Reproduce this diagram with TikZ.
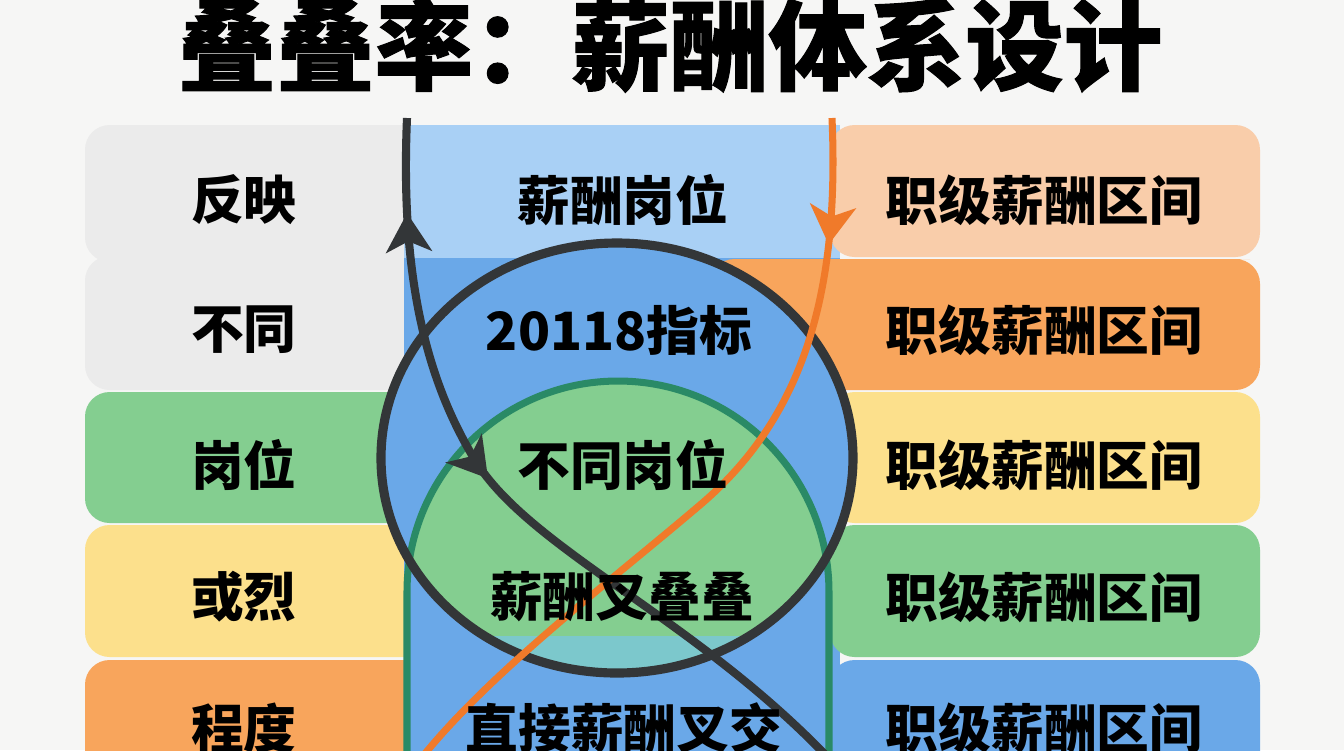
\documentclass[tikz,border=0pt]{standalone}
\usepackage{fontspec}
\setmainfont{Noto Sans CJK SC}
\newfontfamily\titlefont{Noto Sans CJK SC}[BoldFeatures={FakeBold=1}]
\usepackage{tikz}
\usetikzlibrary{arrows.meta,decorations.markings}
\definecolor{bgcol}{HTML}{F6F6F5}
\definecolor{boxgray}{HTML}{EBEBEB}
\definecolor{boxgreen}{HTML}{84CE90}
\definecolor{boxyellow}{HTML}{FCE08C}
\definecolor{boxorange}{HTML}{F8A55C}
\definecolor{boxpeach}{HTML}{F9CDAA}
\definecolor{boxblue}{HTML}{6AA8E8}
\definecolor{paleblue}{HTML}{A9D0F5}
\definecolor{lenscol}{HTML}{7CC8CC}
\definecolor{inkdark}{HTML}{333638}
\definecolor{inkorange}{HTML}{F07A2A}
\definecolor{inkgreen}{HTML}{2A8A66}
\newcommand\rowtxt{\bfseries\fontsize{15}{18}\selectfont}

\begin{document}
\begin{tikzpicture}[x=0.01cm,y=-0.01cm,
    >={Stealth[length=11pt,width=13pt,inset=3pt]},
    band/.style={rounded corners=7pt},
    lbl/.style={font=\rowtxt,inner sep=0pt},
    ring/.style={draw=inkdark,line width=2.6pt},
    archline/.style={draw=inkgreen,line width=2pt},
    darkcurve/.style={draw=inkdark,line width=2.3pt},
    orangecurve/.style={draw=inkorange,line width=2pt}]
    \useasboundingbox (0,0) rectangle (1344,750);
    \fill[bgcol] (0,0) rectangle (1344,750);

    % left column
    \fill[band,boxgray] (85,125) rectangle (450,262);
    \fill[band,boxgray] (85,256) rectangle (450,390);
    \fill[band,boxgreen] (85,392) rectangle (450,523);
    \fill[band,boxyellow] (85,525) rectangle (450,657);
    \fill[band,boxorange] (85,660) rectangle (450,800);

    % middle column
    \fill[paleblue] (404,125) rectangle (840,258);
    \fill[boxblue] (404,258) rectangle (840,800);

    % right column
    \fill[band,boxpeach] (830,125) rectangle (1260,257);
    \fill[boxorange] (710,259) -- (1250,259)
      [rounded corners=7pt] -- (1260,259) -- (1260,390) -- (710,390) -- cycle;
    \fill[band,boxyellow] (830,392) rectangle (1260,523);
    \fill[band,boxgreen] (830,525) rectangle (1260,657);
    \fill[band,boxblue] (830,660) rectangle (1260,800);

    \coordinate (ctr) at (617,458);
    \fill[boxblue] (ctr) ellipse[x radius=236,y radius=215];
    \begin{scope}
      \clip (ctr) ellipse[x radius=236,y radius=215];
      \clip (407,800) -- (407,592) arc[start angle=180,end angle=360,radius=211] -- (829,800) -- cycle;
      \fill[boxgreen] (0,0) rectangle (1344,800);
      \fill[lenscol] (0,636) rectangle (1344,800);
    \end{scope}
    \draw[archline] (407,800) -- (407,592) arc[start angle=180,end angle=360,radius=211] -- (829,800);
    \draw[ring] (ctr) ellipse[x radius=236,y radius=215];

    % crossing curves
    \coordinate (dTop) at (407,118);
    \coordinate (dMid) at (475,460);
    \coordinate (dBot) at (835,765);
    \coordinate (oTop) at (832,118);
    \coordinate (oMid) at (700,505);
    \coordinate (oBot) at (412,770);
    \draw[darkcurve,postaction={decorate},decoration={markings,
        mark=at position 0.115 with {\arrowreversed[inkdark]{>}},
        mark=at position 0.455 with {\arrow[inkdark]{>}}}]
      (dTop) .. controls (401,260) and (420,370) .. (dMid)
      .. controls (530,550) and (700,620) .. (dBot);
    \draw[orangecurve,postaction={decorate},decoration={markings,
        mark=at position 0.155 with {\arrow[inkorange]{>}}}]
      (oTop) .. controls (840,300) and (800,420) .. (oMid)
      .. controls (600,590) and (480,680) .. (oBot);

    \path (670,45) node (title)
      {\titlefont\bfseries\fontsize{28}{30}\selectfont 叠叠率：薪酬体系设计};

    \path
    (244,200) node[lbl] (L1) {反映}
    (244,330) node[lbl] (L2) {不同}
    (244,465) node[lbl] (L3) {岗位}
    (244,597) node[lbl] (L4) {或烈}
    (244,728) node[lbl] (L5) {程度}
    ;
    \path
    (623,200) node[lbl] (M1) {薪酬岗位}
    (619,330) node[lbl] (M2) {20118指标}
    (623,465) node[lbl] (M3) {不同岗位}
    (622,597) node[lbl] (M4) {薪酬叉叠叠}
    (624,728) node[lbl] (M5) {直接薪酬叉交}
    ;
    \path
    (1044,200) node[lbl] (R1) {职级薪酬区间}
    (1044,330) node[lbl] (R2) {职级薪酬区间}
    (1044,465) node[lbl] (R3) {职级薪酬区间}
    (1044,597) node[lbl] (R4) {职级薪酬区间}
    (1044,728) node[lbl] (R5) {职级薪酬区间}
    ;
\end{tikzpicture}
\end{document}
